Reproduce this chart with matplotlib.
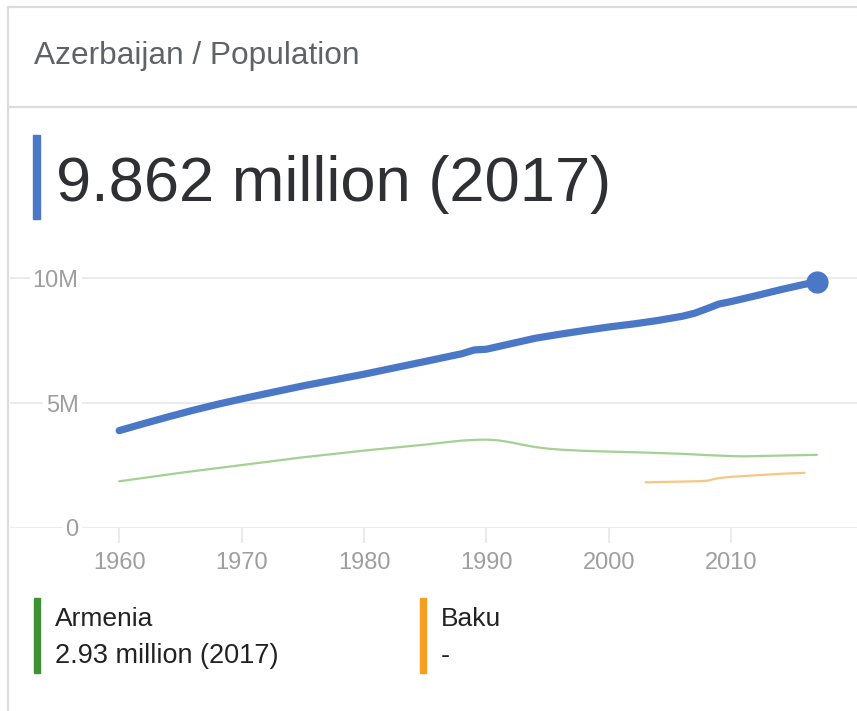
import matplotlib
matplotlib.use("Agg")
import matplotlib.pyplot as plt
from matplotlib.lines import Line2D
from matplotlib.patches import Rectangle

plt.rcParams['font.family'] = ['Liberation Sans', 'DejaVu Sans']

# ---- data (millions) ----
az_years = [1960, 1962, 1964, 1966, 1968, 1970, 1972, 1975, 1980, 1985, 1988, 1989,
            1990, 1992, 1994, 1996, 1998, 2000, 2002, 2004, 2006, 2007, 2008, 2009,
            2010, 2012, 2014, 2016, 2017]
az_values = [3.90, 4.18, 4.45, 4.71, 4.95, 5.17, 5.38, 5.69, 6.16, 6.67, 6.98, 7.13,
             7.16, 7.38, 7.60, 7.76, 7.91, 8.05, 8.17, 8.31, 8.48, 8.60, 8.78, 8.97,
             9.07, 9.30, 9.54, 9.76, 9.862]

am_years = [1960, 1965, 1970, 1975, 1980, 1985, 1987, 1988, 1989, 1990, 1991, 1992,
            1993, 1994, 1995, 1996, 1998, 2000, 2003, 2006, 2008, 2010, 2011, 2012,
            2014, 2017]
am_values = [1.87, 2.21, 2.52, 2.83, 3.10, 3.34, 3.45, 3.50, 3.53, 3.54, 3.51, 3.43,
             3.33, 3.24, 3.18, 3.14, 3.09, 3.06, 3.02, 2.97, 2.92, 2.88, 2.87, 2.88,
             2.90, 2.93]

baku_years = [2003, 2004, 2005, 2006, 2007, 2008, 2009, 2010, 2011, 2012, 2013, 2014,
              2015, 2016]
baku_values = [1.83, 1.84, 1.85, 1.86, 1.87, 1.89, 2.00, 2.05, 2.08, 2.11, 2.14, 2.17,
               2.19, 2.21]

x_ticks = [1960, 1970, 1980, 1990, 2000, 2010]
y_ticks = [0, 5, 10]
y_tick_labels = ['0', '5M', '10M']

title = "Azerbaijan / Population"
headline = "9.862 million (2017)"
legend_names = ["Armenia", "Baku"]
legend_values = ["2.93 million (2017)", "-"]

BLUE = '#4a78c6'
GREEN_LINE = '#a3d193'
ORANGE_LINE = '#f7c684'
GREEN_BAR = '#3e9135'
ORANGE_BAR = '#f59e1f'
GRID = '#ebebeb'
BORDER = '#dcdcdc'

W, H = 857, 711
fig = plt.figure(figsize=(W / 100, H / 100), dpi=100)
fig.patch.set_facecolor('white')


def fx(px):
    return px / W


def fy(py):
    return 1 - py / H


# card borders
for (x0, y0, x1, y1) in [(8, 7, W, 7), (8, 7, 8, H), (8, 107, W, 107)]:
    fig.add_artist(Line2D([fx(x0), fx(x1)], [fy(y0), fy(y1)], color=BORDER, lw=1.6,
                          transform=fig.transFigure))

fig.text(fx(34), fy(64), title, fontsize=22.8, color='#5f6368', ha='left', va='baseline')

fig.add_artist(Rectangle((fx(33), fy(219)), fx(7), (219 - 135) / H, color=BLUE,
                         transform=fig.transFigure))
fig.text(fx(56), fy(201.5), headline, fontsize=45.5, color='#2f3033', ha='left',
         va='baseline')

# ---- chart ----
px_per_m = 24.97
y_top = 11
ax = fig.add_axes([fx(10), fy(528), (W - 10) / W, y_top * px_per_m / H])
px_per_yr = 12.24
ax.set_xlim(1960 - (119.2 - 10) / px_per_yr, 1960 + (W - 119.2) / px_per_yr)
ax.set_ylim(0, y_top)
ax.patch.set_alpha(0)
for s in ax.spines.values():
    s.set_visible(False)

ax.set_axisbelow(True)
ax.set_yticks(y_ticks, labels=y_tick_labels)
ax.yaxis.grid(True, color=GRID, lw=1.5)
ax.tick_params(axis='y', length=0, pad=-49.5, labelsize=17, labelcolor='#9e9e9e')
for lbl in ax.get_yticklabels():
    lbl.set_bbox(dict(facecolor='white', edgecolor='none', pad=2))

ax.set_xticks(x_ticks)
ax.tick_params(axis='x', length=11, width=1.1, color='#e4e4e4', pad=6,
               labelsize=17, labelcolor='#9e9e9e')

ax.plot(am_years, am_values, color=GREEN_LINE, lw=1.6, solid_capstyle='round', zorder=2)
ax.plot(baku_years, baku_values, color=ORANGE_LINE, lw=1.6, solid_capstyle='round', zorder=2)
ax.plot(az_years, az_values, color=BLUE, lw=5.2, solid_capstyle='round',
        solid_joinstyle='round', zorder=3)
ax.plot([az_years[-1]], [az_values[-1]], 'o', color=BLUE, markersize=15, zorder=4,
        clip_on=False)

# ---- legend ----
for bx, color, name, val in [(34, GREEN_BAR, legend_names[0], legend_values[0]),
                             (420, ORANGE_BAR, legend_names[1], legend_values[1])]:
    fig.add_artist(Rectangle((fx(bx), fy(673)), fx(6), (673 - 598) / H, color=color,
                             transform=fig.transFigure))
    fig.text(fx(bx + 21), fy(626.5), name, fontsize=19, color='#222222', va='baseline')
    fig.text(fx(bx + 21), fy(663), val, fontsize=19.5, color='#222222', va='baseline')

fig.savefig('out.png', dpi=100)
